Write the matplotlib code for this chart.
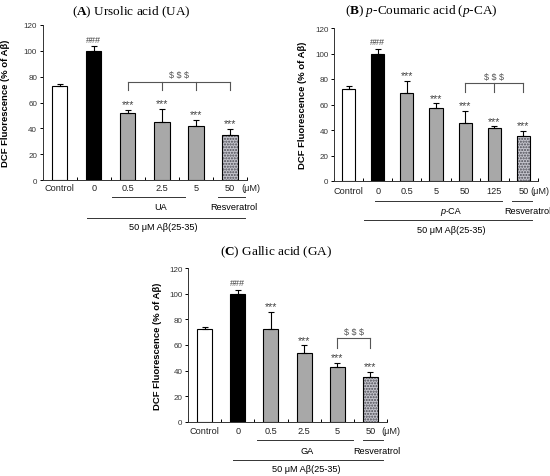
import matplotlib
matplotlib.use("Agg")
import matplotlib.pyplot as plt
import matplotlib.transforms as mtransforms

plt.rcParams["font.family"] = ["Liberation Sans", "DejaVu Sans"]
plt.rcParams["mathtext.fontset"] = "custom"
plt.rcParams["mathtext.rm"] = "Liberation Serif"
plt.rcParams["mathtext.it"] = "Liberation Serif:italic"
plt.rcParams["mathtext.bf"] = "Liberation Serif:bold"

# data
ua_labels = ["Control", "0", "0.5", "2.5", "5", "50"]
ua_mean = [72.5, 100, 51.5, 45, 42, 35]
ua_err = [1.5, 3.5, 2.6, 10.3, 4.4, 4.4]

pca_labels = ["Control", "0", "0.5", "5", "50", "125", "50"]
pca_mean = [72.3, 100, 68.8, 57.2, 45.7, 41.2, 35.2]
pca_err = [2.0, 3.6, 9.5, 3.8, 9.5, 1.6, 4.0]

ga_labels = ["Control", "0", "0.5", "2.5", "5", "50"]
ga_mean = [72.5, 100, 72.5, 54, 43, 35.2]
ga_err = [1.5, 3.2, 13.2, 5.8, 3.2, 4.0]

W, H = 550, 477
fig = plt.figure(figsize=(W / 100, H / 100), dpi=100)


def axes_px(left, top, right, bottom):
    return fig.add_axes([left / W, 1 - bottom / H, (right - left) / W, (bottom - top) / H])


def draw_panel(ax, labels, mean, err, ylab_x, bracket, group, lines, rows, um_x):
    n = len(labels)
    x = list(range(n))
    colors = ["white", "black"] + ["#a8a8a8"] * (n - 3) + ["none"]
    bw = 0.45
    # resveratrol texture
    ax.bar(x[-1], mean[-1], bw, color="#c4c4cc", edgecolor="#4a4a52",
           hatch="......", linewidth=0, zorder=2)
    ax.bar(x, mean, bw, color=colors, edgecolor="black",
           linewidth=0.8, zorder=3)
    ax.errorbar(x, mean, yerr=[[0] * n, err], fmt="none", ecolor="black",
                elinewidth=0.8, capsize=2.5, capthick=0.8, zorder=4)
    for i in range(1, n):
        if i == 1:
            ax.text(x[i], mean[i] + err[i] + 2, "###", ha="center", va="bottom",
                    fontsize=6.5, color="#444444")
        else:
            ax.text(x[i], mean[i] + err[i] + 0.5, "***", ha="center", va="bottom",
                    fontsize=7.8, color="#444444")

    ax.set_xlim(-0.5, n - 0.5)
    ax.set_ylim(0, 120)
    ax.set_yticks(range(0, 121, 20))
    ax.tick_params(axis="y", labelsize=5.8, labelcolor="#333333", length=2.5,
                   width=0.7, pad=1.5)
    ax.set_xticks([i + 0.5 for i in range(-1, n)])
    ax.set_xticklabels([])
    ax.tick_params(axis="x", direction="in", length=2.5, width=0.7)
    for s in ["top", "right"]:
        ax.spines[s].set_visible(False)
    for s in ["left", "bottom"]:
        ax.spines[s].set_linewidth(0.7)
        ax.spines[s].set_color("#333333")

    ax.set_ylabel("DCF Fluorescence (% of A\u03b2)", fontsize=6.8, fontweight="bold")
    ax.yaxis.set_label_coords(ylab_x, 0.5)

    tr = mtransforms.blended_transform_factory(ax.transData, ax.transAxes)
    y0, y1, y2, y3, y4 = rows
    for i, lab in enumerate(labels):
        ax.text(x[i], y0, lab, ha="center", va="center", fontsize=6.6,
                transform=tr, color="#222222")
    ax.text(um_x, y0, "(\u03bcM)", ha="center", va="center", fontsize=6.6,
            transform=tr, color="#222222", clip_on=False)

    (g0, g1), (r0, r1), (l0, l1) = lines
    for a, b, yy in [(g0, g1, y1), (r0, r1, y1), (l0, l1, y3)]:
        ax.plot([a, b], [yy, yy], color="#333333", lw=0.7, transform=tr,
                clip_on=False)
    gname, gx, rx, tx = group
    if gname == "p-CA":
        ax.text(gx - 0.22, y2, "p", style="italic", ha="right", va="center",
                fontsize=6.6, transform=tr)
        ax.text(gx - 0.22, y2, "-CA", ha="left", va="center", fontsize=6.6,
                transform=tr)
    else:
        ax.text(gx, y2, gname, ha="center", va="center", fontsize=6.6, transform=tr)
    ax.text(rx, y2, "Resveratrol", ha="center", va="center", fontsize=6.6,
            transform=tr, clip_on=False)
    ax.text(tx, y4, "50 \u03bcM A\u03b2(25-35)", ha="center", va="center",
            fontsize=6.6, transform=tr)

    idx, ytop, ydrop, ysig = bracket
    ax.plot([idx[0], idx[-1]], [ytop, ytop], color="#555555", lw=0.8, clip_on=False)
    for i in idx:
        ax.plot([i, i], [ytop, ydrop], color="#555555", lw=0.8, clip_on=False)
    ax.text((idx[0] + idx[-1]) / 2, ysig, "\\$ \\$ \\$", ha="center",
            va="center", fontsize=6.5, color="#555555")


axA = axes_px(42.7, 26, 247, 181)
draw_panel(axA, ua_labels, ua_mean, ua_err, -0.16,
           ([2, 3, 4, 5], 76, 70, 81.3),
           ("UA", 2.95, 5.1, 3.04),
           [(1.54, 3.69), (4.66, 5.45), (0.8, 5.45)],
           (-0.05, -0.11, -0.174, -0.245, -0.303), 5.6)
fig.text(131 / W, 1 - 12 / H, r"($\mathbf{A}$) Ursolic acid (UA)", ha="center",
         va="center", fontsize=9.5, family="Liberation Serif")

axB = axes_px(334, 29, 538, 182)
draw_panel(axB, pca_labels, pca_mean, pca_err, -0.134,
           ([4, 5, 6], 77, 69.6, 81.8),
           ("p-CA", 3.54, 6.14, 3.54),
           [(0.9, 5.25), (5.6, 6.31), (0.53, 6.31)],
           (-0.065, -0.13, -0.196, -0.255, -0.314), 6.55)
fig.text(421 / W, 1 - 11 / H,
         r"($\mathbf{B}$) $\mathit{p}$-Coumaric acid ($\mathit{p}$-CA)",
         ha="center", va="center", fontsize=9.5, family="Liberation Serif")

axC = axes_px(188, 269, 387, 423)
draw_panel(axC, ga_labels, ga_mean, ga_err, -0.13,
           ([4, 5], 65.5, 58, 70.7),
           ("GA", 3.08, 5.2, 3.08),
           [(1.58, 4.47), (4.77, 5.37), (0.86, 5.37)],
           (-0.058, -0.117, -0.188, -0.247, -0.305), 5.62)
fig.text(276 / W, 1 - 252 / H, r"($\mathbf{C}$) Gallic acid (GA)", ha="center",
         va="center", fontsize=9.5, family="Liberation Serif")

fig.savefig("out.png", dpi=100, facecolor="white")
